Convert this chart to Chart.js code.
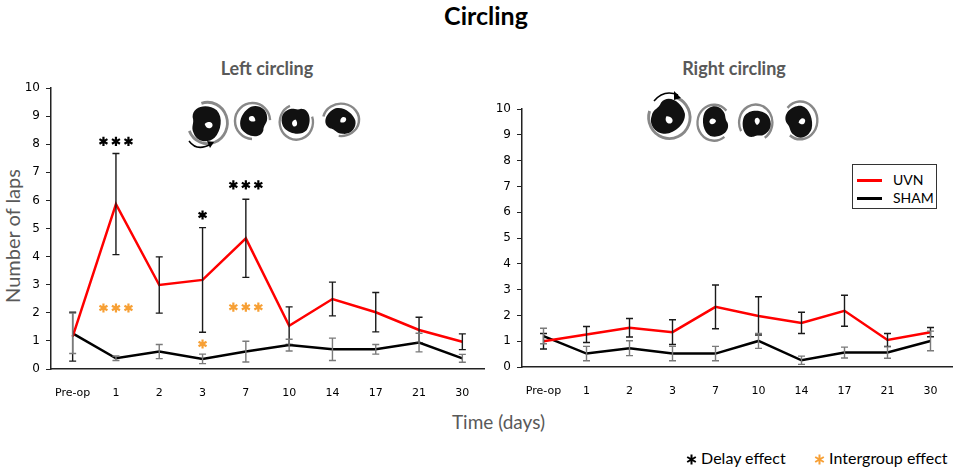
<!DOCTYPE html>
<html>
<head>
<meta charset="utf-8">
<script src="https://cdn.jsdelivr.net/npm/chart.js@4"></script>
<style>
  body { margin: 0; background: #fff; width: 957px; height: 469px; position: relative; overflow: hidden; font-family: 'Lato', sans-serif; }
  .abs { position: absolute; }
  #titre { left: 0; width: 972px; top: 0px; text-align: center; font-weight: bold; font-size: 25px; color: #000; }
  .sub { font-weight: bold; font-size: 18px; color: #595959; width: 200px; text-align: center; top: 57px; }
  #ylab { left: -58px; top: 224px; width: 140px; transform: rotate(-90deg); text-align: center; font-size: 20px; color: #595959; white-space: nowrap; }
  #xlab { left: 0; width: 997px; top: 410px; text-align: center; font-size: 19px; color: #595959; }
  #legende { left: 852px; top: 164px; width: 83px; height: 43px; border: 1.3px solid #333; background: #fff; font-size: 14px; }
  .row { position: absolute; left: 0; width: 100%; height: 16px; }
  .row span.l { position: absolute; left: 4px; top: 7px; width: 25px; height: 3px; }
  .row span.t { position: absolute; left: 40px; top: -1px; }
  .nota { top: 448px; font-size: 16px; color: #000; white-space: nowrap; }
  svg.rato { position: absolute; overflow: visible; }
</style>
</head>
<body>
<div id="titre" class="abs">Circling</div>
<div class="abs sub" style="left:167px;">Left circling</div>
<div class="abs sub" style="left:634px;">Right circling</div>
<div id="ylab" class="abs">Number of laps</div>
<div id="ratos"></div>

<canvas id="graficoEsq" class="abs" style="left:0; top:0;"></canvas>
<canvas id="graficoDir" class="abs" style="left:480px; top:0;"></canvas>

<div id="legende" class="abs">
  <div class="row" style="top:7px;"><span class="l" style="background:#ff0000;"></span><span class="t">UVN</span></div>
  <div class="row" style="top:25px;"><span class="l" style="background:#000;"></span><span class="t">SHAM</span></div>
</div>
<div id="xlab" class="abs">Time (days)</div>
<div class="abs nota" style="left:686px;"><svg width="11" height="11" viewBox="-5.5 -5.5 11 11" style="vertical-align:-1px"><path d="M0 -5V5M-4.3 -2.5L4.3 2.5M-4.3 2.5L4.3 -2.5" stroke="#000" stroke-width="2"/></svg> Delay effect</div>
<div class="abs nota" style="left:814px;"><svg width="11" height="11" viewBox="-5.5 -5.5 11 11" style="vertical-align:-1px"><path d="M0 -5V5M-4.3 -2.5L4.3 2.5M-4.3 2.5L4.3 -2.5" stroke="#f7a035" stroke-width="2"/></svg> Intergroup effect</div>

<script>
// CATEGORIAS (DIAS)
const categorias = ['Pre-op', '1', '2', '3', '7', '10', '14', '17', '21', '30'];

// CIRCULAÇÃO À ESQUERDA
const esqUvn = [1.15, 5.87, 2.99, 3.17, 4.65, 1.54, 2.49, 2.02, 1.39, 0.97];
const esqUvnErro = [0.87, 1.8, 1.0, 1.86, 1.39, 0.67, 0.6, 0.7, 0.45, 0.28];
const esqSham = [1.27, 0.38, 0.62, 0.36, 0.62, 0.85, 0.70, 0.70, 0.94, 0.38];
const esqShamErro = [0.72, 0.08, 0.25, 0.17, 0.37, 0.21, 0.4, 0.17, 0.33, 0.14];

// CIRCULAÇÃO À DIREITA
const dirUvn = [1.0, 1.26, 1.52, 1.35, 2.33, 1.98, 1.71, 2.18, 1.05, 1.35];
const dirUvnErro = [0.3, 0.31, 0.36, 0.48, 0.85, 0.74, 0.41, 0.6, 0.25, 0.18];
const dirSham = [1.2, 0.52, 0.73, 0.52, 0.52, 1.01, 0.26, 0.56, 0.56, 1.01];
const dirShamErro = [0.3, 0.28, 0.29, 0.28, 0.28, 0.29, 0.16, 0.21, 0.22, 0.38];

// ASTERISCOS DE SIGNIFICÂNCIA (categoria, nível, quantidade, tipo)
const estrelasEsq = [
    { cat: '1', nivel: 8.1, n: 3, tipo: 'delay' },
    { cat: '3', nivel: 5.48, n: 1, tipo: 'delay' },
    { cat: '7', nivel: 6.55, n: 3, tipo: 'delay' },
    { cat: '1', nivel: 2.17, n: 3, tipo: 'inter' },
    { cat: '7', nivel: 2.2, n: 3, tipo: 'inter' },
    { cat: '3', nivel: 0.89, n: 1, tipo: 'inter' }
];

const corEstrela = { delay: '#000', inter: '#f7a035' };

// SILHUETAS DOS RATOS (só decoração): x, y, largura, altura, rotação
const ratos = [
    [186, 101, 44, 46, 0], [233, 100, 39, 40, 200], [277, 103, 37, 39, 90], [322, 102, 40, 36, 300],
    [646, 95, 46, 47, 40], [695, 102, 37, 40, 160], [738, 102, 37, 40, 260], [782, 100, 38, 42, 330]
];
document.getElementById('ratos').innerHTML = ratos.map(([x, y, w, h, r]) =>
    `<svg class="rato" style="left:${x}px;top:${y}px" width="${w}" height="${h}" viewBox="-20 -20 40 40" preserveAspectRatio="none">
      <g transform="rotate(${r})">
        <path d="M-6 -18 A18 18 0 1 1 -17 6" fill="none" stroke="#888" stroke-width="2.5"/>
        <path d="M-14 -6 C-14 -16 0 -18 8 -12 C14 -6 12 6 6 12 C0 17 -10 16 -13 8 C-16 2 -12 0 -14 -6Z" fill="#111"/>
        <path d="M-3 0 C0 -3 5 -2 4 2 C2 5 -2 4 -3 0Z" fill="#fff"/>
      </g></svg>`).join('') +
    `<svg class="rato" style="left:187px;top:138px" width="30" height="14"><path d="M2 3 Q10 14 24 6" fill="none" stroke="#000" stroke-width="1.5"/><path d="M20 3 L27 4 L23 10Z" fill="#000"/></svg>` +
    `<svg class="rato" style="left:652px;top:89px" width="32" height="14"><path d="M2 12 Q12 0 26 6" fill="none" stroke="#000" stroke-width="1.5"/><path d="M22 2 L29 9 L22 11Z" fill="#000"/></svg>`;

// DESENHA UM ASTERISCO DE 6 BRAÇOS
function asterisco(c, x, y, r) {
    c.beginPath();
    c.moveTo(x, y - r); c.lineTo(x, y + r);
    c.moveTo(x - r * 0.87, y - r / 2); c.lineTo(x + r * 0.87, y + r / 2);
    c.moveTo(x - r * 0.87, y + r / 2); c.lineTo(x + r * 0.87, y - r / 2);
    c.stroke();
}

// PLUGIN PARA BARRAS DE ERRO E ASTERISCOS
const barrasErro = {
    id: 'barrasErro',
    afterDatasetsDraw(chart) {
        const c = chart.ctx;
        const y = chart.scales.y;
        const x = chart.scales.x;
        chart.data.datasets.forEach((ds, i) => {
            const meta = chart.getDatasetMeta(i);
            c.save();
            c.strokeStyle = ds.corErro;
            c.lineWidth = 1.4;
            meta.data.forEach((pt, j) => {
                const v = ds.data[j], e = ds.erro[j];
                const yt = y.getPixelForValue(v + e);
                const yb = y.getPixelForValue(Math.max(0, v - e));
                c.beginPath();
                c.moveTo(pt.x, yt); c.lineTo(pt.x, yb);
                c.moveTo(pt.x - 3.5, yt); c.lineTo(pt.x + 3.5, yt);
                c.moveTo(pt.x - 3.5, yb); c.lineTo(pt.x + 3.5, yb);
                c.stroke();
            });
            c.restore();
        });
        const estrelas = chart.options.plugins.barrasErro.estrelas || [];
        c.save();
        c.lineWidth = 2.2;
        estrelas.forEach(s => {
            const px = x.getPixelForValue(categorias.indexOf(s.cat));
            const py = y.getPixelForValue(s.nivel);
            c.strokeStyle = corEstrela[s.tipo];
            for (let k = 0; k < s.n; k++) {
                asterisco(c, px + (k - (s.n - 1) / 2) * 12.5, py, 4.6);
            }
        });
        c.restore();
    }
};

// CRIA UM GRÁFICO DE LINHAS
function criarGrafico(id, largura, larguraY, topo, direita, alturaX, uvn, uvnErro, sham, shamErro, estrelas) {
    const el = document.getElementById(id);
    el.width = largura; el.height = 400;
    el.style.width = largura + 'px'; el.style.height = '400px';
    return new Chart(el, {
        type: 'line',
        data: {
            labels: categorias,
            datasets: [
                { label: 'UVN', data: uvn, erro: uvnErro, corErro: '#1a1a1a', borderColor: '#ff0000', borderWidth: 2.5, pointRadius: 0, tension: 0 },
                { label: 'SHAM', data: sham, erro: shamErro, corErro: '#7a7a7a', borderColor: '#000', borderWidth: 2.5, pointRadius: 0, tension: 0 }
            ]
        },
        options: {
            responsive: false,
            animation: false,
            layout: { padding: { top: topo, right: direita, left: 0, bottom: 0 } },
            plugins: {
                legend: { display: false },
                tooltip: { enabled: false },
                barrasErro: { estrelas: estrelas }
            },
            scales: {
                x: {
                    offset: true,
                    grid: { display: false },
                    border: { display: true, color: '#222', width: 1.5 },
                    ticks: { color: '#000', font: { family: 'DejaVu Sans', size: 11 }, padding: 10, maxRotation: 0 },
                    afterFit(s) { s.height = alturaX; }
                },
                y: {
                    min: 0, max: 10,
                    grid: { drawOnChartArea: false, tickLength: 5, color: '#222', lineWidth: 1 },
                    border: { display: true, color: '#222', width: 1.5 },
                    ticks: { stepSize: 1, color: '#000', font: { family: 'DejaVu Sans', size: 12 }, padding: 6 },
                    afterFit(s) { s.width = larguraY; }
                }
            }
        },
        plugins: [barrasErro]
    });
}

const graficoEsq = criarGrafico('graficoEsq', 490, 51, 88, 6, 31, esqUvn, esqUvnErro, esqSham, esqShamErro, estrelasEsq);
const graficoDir = criarGrafico('graficoDir', 477, 42, 109, 5, 33, dirUvn, dirUvnErro, dirSham, dirShamErro, []);
</script>
</body>
</html>
